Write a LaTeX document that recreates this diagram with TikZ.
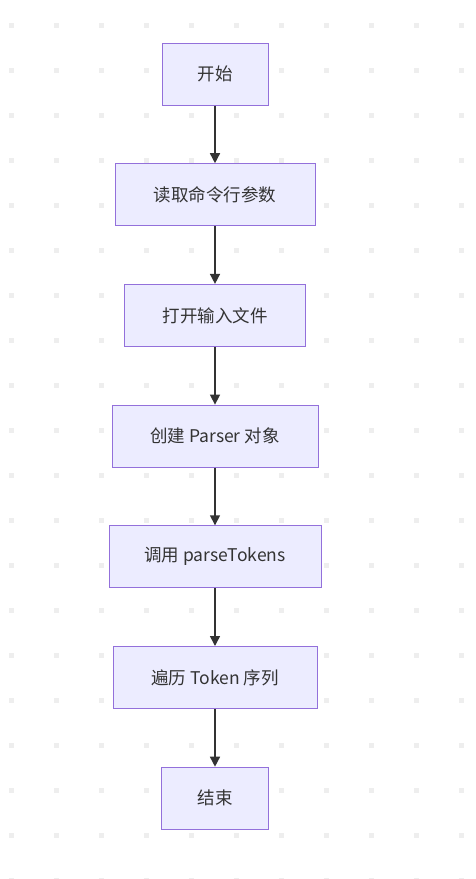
\documentclass[tikz,border=0pt]{standalone}
\usepackage{fontspec}
\setmainfont{Noto Sans CJK SC}
\usetikzlibrary{positioning,arrows.meta}
\definecolor{boxfill}{HTML}{ECECFF}
\definecolor{boxline}{HTML}{9370DB}
\definecolor{txt}{HTML}{333333}
\definecolor{dotgray}{HTML}{EEEEEE}

\begin{document}
\begin{tikzpicture}[x=1pt, y=-1pt, every node/.style = {shape=rectangle, draw=boxline, fill=boxfill, line width=1pt, minimum height=62pt, text=txt, font=\fontsize{17.5}{20}\selectfont}, node distance=57.7pt]
	\tikzstyle{flow} = [draw=txt, line width=1.5pt, -{Triangle[length=10pt, width=10pt]}]
	\tikzstyle{dot} = [fill=dotgray]
	% background with dot grid
	\useasboundingbox (0,0) rectangle (476,879);
	\fill[white] (0,0) rectangle (476,879);
	\foreach \i in {0,...,10}
		\foreach \j in {0,...,19}
			\fill[dot] (8.5+45*\i, 22.5+45*\j) rectangle ++(5,5);
	% steps
	\node[minimum width=106pt] (start) at (215,74) {开始};
	\node[minimum width=200pt, below=of start] (args) {读取命令行参数};
	\node[minimum width=181pt, below=of args] (open) {打开输入文件};
	\node[minimum width=206pt, below=of open] (parser) {创建 Parser 对象};
	\node[minimum width=212pt, below=of parser] (parse) {调用 parseTokens};
	\node[minimum width=204pt, below=of parse] (walk) {遍历 Token 序列};
	\node[minimum width=107pt, below=of walk] (stop) {结束};
	% arrows
	\draw[flow] (start) -- (args);
	\draw[flow] (args) -- (open);
	\draw[flow] (open) -- (parser);
	\draw[flow] (parser) -- (parse);
	\draw[flow] (parse) -- (walk);
	\draw[flow] (walk) -- (stop);
\end{tikzpicture}
\end{document}
